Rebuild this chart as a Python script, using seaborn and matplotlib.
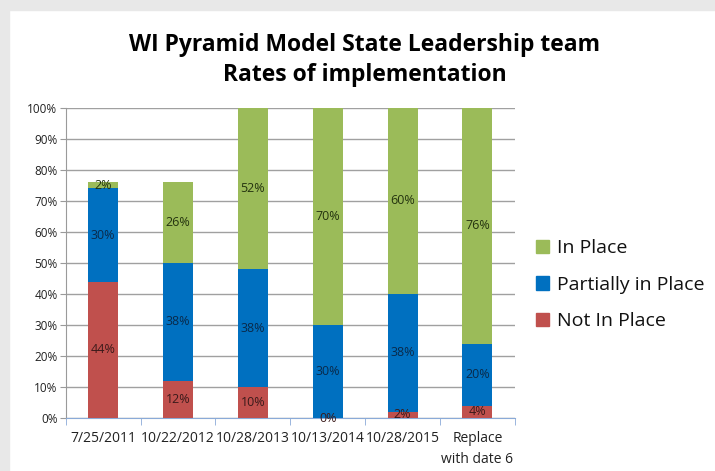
import matplotlib
matplotlib.use("Agg")
import matplotlib.pyplot as plt
import matplotlib.patches as mpatches
from matplotlib.ticker import PercentFormatter, FixedLocator
import seaborn as sns
import pandas as pd
import numpy as np

dates = ["7/25/2011", "10/22/2012", "10/28/2013", "10/13/2014", "10/28/2015",
         "Replace\nwith date 6"]
not_in_place = [44, 12, 10, 0, 2, 4]
partially = [30, 38, 38, 30, 38, 20]
in_place = [2, 26, 52, 70, 60, 76]

green = "#9bbb59"
blue = "#0070c0"
red = "#c0504d"

sns.set_style("white")
plt.rcParams["font.family"] = ["Open Sans", "DejaVu Sans"]
plt.rcParams["text.color"] = "#111111"
plt.rcParams["xtick.color"] = "#222222"
plt.rcParams["ytick.color"] = "#222222"

frame = pd.DataFrame({"date": dates, "not": not_in_place,
                      "part": partially, "in": in_place})
frame["low2"] = frame["not"] + frame["part"]
frame["top"] = frame["low2"] + frame["in"]

fig = plt.figure(figsize=(7.15, 4.71), dpi=100)
# slide border strips
fig.add_artist(mpatches.Rectangle((0, 0.978), 1, 0.022, transform=fig.transFigure,
                                  color="#e8e8e8", zorder=0))
fig.add_artist(mpatches.Rectangle((0, 0), 0.012, 0.978, transform=fig.transFigure,
                                  color="#e8e8e8", zorder=0))
ax = fig.add_axes([0.092, 0.1125, 0.628, 0.6585])

w = 0.4
kw = dict(width=w, saturation=1, ax=ax, zorder=3, linewidth=0)
sns.barplot(data=frame, x="date", y="top", color=green, **kw)
sns.barplot(data=frame, x="date", y="low2", color=blue, **kw)
sns.barplot(data=frame, x="date", y="not", color=red, **kw)

for i in range(len(dates)):
    n, p, g = not_in_place[i], partially[i], in_place[i]
    ax.text(i, n / 2, f"{n}%", ha="center", va="center", fontsize=9, color="#3a1a1a", zorder=5)
    ax.text(i, n + p / 2, f"{p}%", ha="center", va="center", fontsize=9, color="#0a2a4a", zorder=5)
    ax.text(i, n + p + g / 2, f"{g}%", ha="center", va="center", fontsize=9, color="#24330f", zorder=5)

ax.set_ylim(0, 100)
ax.set_xlim(-0.5, len(dates) - 0.5)
ax.yaxis.set_major_locator(FixedLocator(np.arange(0, 101, 10)))
ax.yaxis.set_major_formatter(PercentFormatter(decimals=0))
ax.grid(axis="y", color="#a0a0a0", linewidth=1, zorder=0)
ax.set_axisbelow(True)
ax.set_xlabel("")
ax.set_ylabel("")
for s in ["top", "right"]:
    ax.spines[s].set_visible(False)
ax.spines["left"].set_color("#9a9a9a")
ax.spines["bottom"].set_color("#8aaad8")
ax.tick_params(axis="y", labelsize=8.5, left=True, length=4, color="#9a9a9a", pad=2)
ax.tick_params(axis="x", labelsize=10, bottom=False, pad=6)
ax.set_xticks(range(len(dates)))
ax.set_xticklabels(dates, linespacing=1.5)
ax.set_xticks(np.arange(-0.5, len(dates), 1), minor=True)
ax.tick_params(axis="x", which="minor", bottom=True, length=5, color="#8aaad8")

fig.text(0.51, 0.905, "WI Pyramid Model State Leadership team", ha="center", va="center",
         fontsize=16.5, fontweight="bold", color="black")
fig.text(0.51, 0.84, "Rates of implementation", ha="center", va="center",
         fontsize=16.5, fontweight="bold", color="black")

handles = [mpatches.Patch(color=green, label="In Place"),
           mpatches.Patch(color=blue, label="Partially in Place"),
           mpatches.Patch(color=red, label="Not In Place")]
fig.legend(handles=handles, loc="center left", bbox_to_anchor=(0.725, 0.395),
           frameon=False, fontsize=14, handlelength=0.7, handleheight=0.7,
           handletextpad=0.4, labelspacing=0.95)

fig.savefig("out.png", dpi=100)
